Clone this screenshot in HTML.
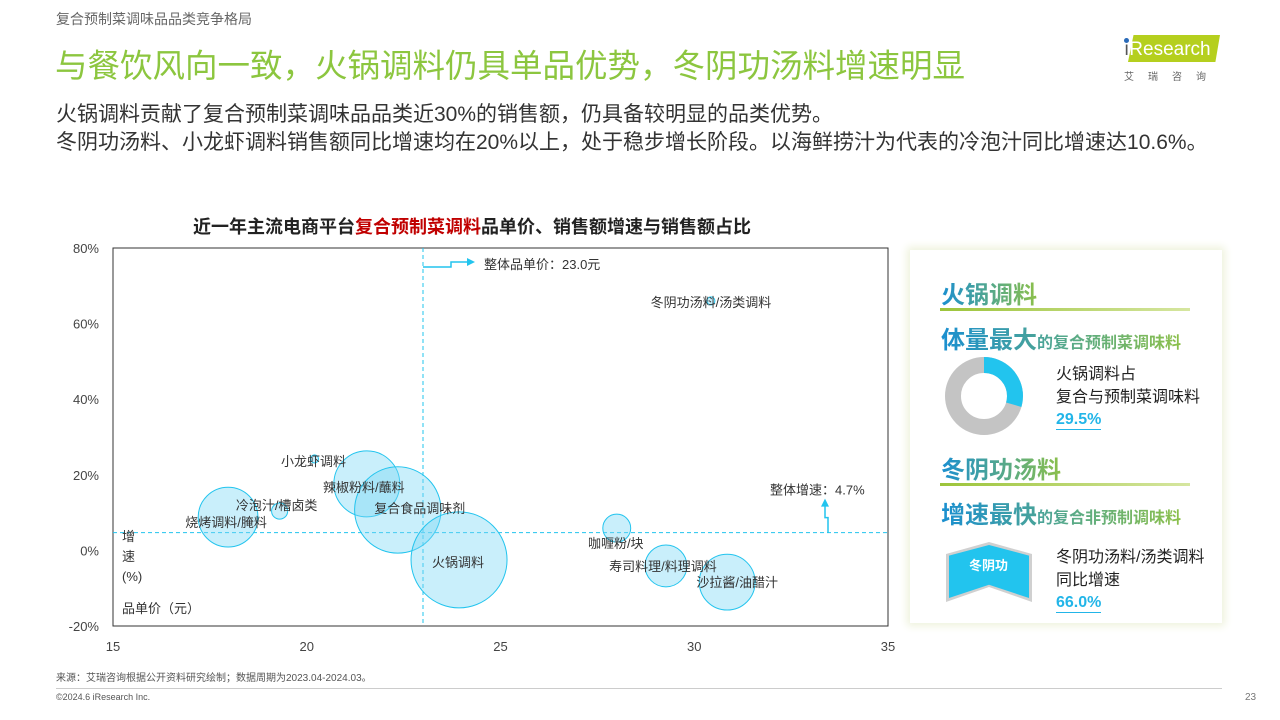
<!DOCTYPE html>
<html><head><meta charset="utf-8">
<style>
body{margin:0;width:1280px;height:720px;background:#fff;font-family:"Liberation Sans","Noto Sans CJK SC",sans-serif;position:relative;overflow:hidden;color:#333}
.abs{position:absolute;white-space:nowrap}
.grad{background:linear-gradient(90deg,#1a8fd0,#8cc04a);-webkit-background-clip:text;background-clip:text;color:transparent;font-weight:bold}
</style></head><body>
<div class="abs" style="left:56px;top:9px;font-size:14px;color:#666">复合预制菜调味品品类竞争格局</div>
<div class="abs" style="left:55px;top:40px;font-size:32.5px;color:#8cc63f">与餐饮风向一致，火锅调料仍具单品优势，冬阴功汤料增速明显</div>
<div style="position:absolute;left:1122px;top:33px;width:98px;height:45px">
 <div style="position:absolute;left:6px;top:2px;width:92px;height:27px;background:#b5cf1e;clip-path:polygon(6% 0,100% 0,95% 100%,0 100%)"></div>
 <div style="position:absolute;left:2px;top:5px;width:5px;height:5px;border-radius:50%;background:#2a6ab8"></div>
 <div class="abs" style="left:2px;top:6px;font-size:19px;color:#fff"><span style="color:#555">ı</span>Research</div>
 <div class="abs" style="left:2px;top:35px;font-size:10px;color:#666;letter-spacing:14px">艾瑞咨询</div>
</div>
<div class="abs" style="left:56px;top:101px;font-size:21px;line-height:28px;color:#333">火锅调料贡献了复合预制菜调味品品类近30%的销售额，仍具备较明显的品类优势。<br>冬阴功汤料、小龙虾调料销售额同比增速均在20%以上，处于稳步增长阶段。以海鲜捞汁为代表的冷泡汁同比增速达10.6%。</div>
<div class="abs" style="left:193px;top:213px;font-size:18px;font-weight:bold;color:#222">近一年主流电商平台<span style="color:#c00000">复合预制菜调料</span>品单价、销售额增速与销售额占比</div>

<svg id="chart" width="1280" height="720" style="position:absolute;left:0;top:0" font-family="Liberation Sans, Noto Sans CJK SC, sans-serif"></svg>

<div style="position:absolute;left:910px;top:250px;width:312px;height:373px;background:#fff;box-shadow:0 0 8px 3px #eef2dc">
 <div class="abs grad" style="left:31px;top:25px;font-size:24px">火锅调料</div>
 <div style="position:absolute;left:30px;top:58px;width:250px;height:3px;background:linear-gradient(90deg,#9cc43a,#d6e6a0)"></div>
 <div class="abs grad" style="left:31px;top:70px;font-size:24px">体量最大<span style="font-size:16px">的复合预制菜调味料</span></div>
 <svg style="position:absolute;left:34px;top:106px" width="80" height="80" viewBox="0 0 80 80">
  <circle cx="40" cy="40" r="31" fill="none" stroke="#c4c4c4" stroke-width="16"/>
  <circle cx="40" cy="40" r="31" fill="none" stroke="#22c4ee" stroke-width="16" stroke-dasharray="57.46 200" transform="rotate(-90 40 40)"/>
 </svg>
 <div class="abs" style="left:146px;top:113px;font-size:16px;line-height:23px;color:#222">火锅调料占<br>复合与预制菜调味料</div>
 <div class="abs" style="left:146px;top:161px;font-size:16px;font-weight:bold;color:#22b5e8;border-bottom:1px solid #22b5e8">29.5%</div>
 <div class="abs grad" style="left:31px;top:200px;font-size:24px">冬阴功汤料</div>
 <div style="position:absolute;left:30px;top:233px;width:250px;height:3px;background:linear-gradient(90deg,#9cc43a,#d6e6a0)"></div>
 <div class="abs grad" style="left:31px;top:245px;font-size:24px">增速最快<span style="font-size:16px">的复合非预制调味料</span></div>
 <div style="position:absolute;left:36px;top:292px;width:86px;height:60px;background:#d0d0d0;clip-path:polygon(0 20%,50% 0,100% 20%,100% 100%,50% 75%,0 100%)"></div>
 <div style="position:absolute;left:39px;top:295px;width:80px;height:53px;background:#22c4ee;clip-path:polygon(0 20%,50% 0,100% 20%,100% 100%,50% 75%,0 100%)"></div>
 <div class="abs" style="left:59px;top:305px;font-size:13px;font-weight:bold;color:#fff">冬阴功</div>
 <div class="abs" style="left:146px;top:296px;font-size:16px;line-height:23px;color:#222">冬阴功汤料/汤类调料<br>同比增速</div>
 <div class="abs" style="left:146px;top:344px;font-size:16px;font-weight:bold;color:#22b5e8;border-bottom:1px solid #22b5e8">66.0%</div>
</div>

<div class="abs" style="left:56px;top:669px;font-size:10px;color:#555">来源：艾瑞咨询根据公开资料研究绘制；数据周期为2023.04-2024.03。</div>
<div style="position:absolute;left:56px;top:688px;width:1166px;height:1px;background:#ccc"></div>
<div class="abs" style="left:56px;top:692px;font-size:9px;color:#555">©2024.6 iResearch Inc.</div>
<div class="abs" style="left:1245px;top:692px;font-size:10px;color:#777">23</div>

<script>
const names=["烧烤调料/腌料","冷泡汁/槽卤类","小龙虾调料","辣椒粉料/蘸料","复合食品调味剂","火锅调料","冬阴功汤料/汤类调料","咖喱粉/块","寿司料理/料理调料","沙拉酱/油醋汁"];
const prices=[17.97,19.3,20.2,21.55,22.35,23.93,30.43,28.0,29.27,30.85];
const growth=[8.8,10.4,24.2,17.6,10.7,-2.5,66.0,5.9,-4.1,-8.4];
const shares=[5.5,0.4,0.1,6.7,11.5,14.2,0.1,1.2,2.7,4.8];
const xTicks=[15,20,25,30,35];
const yTicks=[-20,0,20,40,60,80];
const avgPrice=23.0, avgGrowth=4.7;
const labelDx=[-2,-3,-1,-3,22,-1,0,-1,-3,10];
const labelDy=[5,-6,2,3,-2,2,1,15,0,0];
const NS="http://www.w3.org/2000/svg";
const svg=document.getElementById('chart');
const L=113,R=888,T=248,B=626;
const X=v=>L+(v-15)/20*(R-L);
const Y=v=>B-(v+20)/100*(B-T);
const Rad=s=>48*Math.sqrt(s/14.2);
function mk(t,a,p){const e=document.createElementNS(NS,t);for(const k in a)e.setAttribute(k,a[k]);(p||svg).appendChild(e);return e;}
const frame=mk('rect',{x:L,y:T,width:R-L,height:B-T,fill:'none',stroke:'#333','stroke-width':1});


xTicks.forEach(v=>{const t=mk('text',{x:X(v),y:B+25,'text-anchor':'middle','font-size':13,fill:'#444'});t.textContent=v;

});
yTicks.forEach(v=>{const t=mk('text',{x:99,y:Y(v)+5,'text-anchor':'end','font-size':13,fill:'#444'});t.textContent=v+'%';

});
const vl=mk('line',{x1:X(avgPrice),x2:X(avgPrice),y1:T,y2:B,stroke:'#22c4ee','stroke-dasharray':'4,3'});


const hl=mk('line',{x1:L,x2:R,y1:Y(avgGrowth),y2:Y(avgGrowth),stroke:'#22c4ee','stroke-dasharray':'4,3'});


mk('path',{d:`M${X(avgPrice)} ${T+19}H${X(avgPrice)+28}V${T+14}H${X(avgPrice)+45}`,fill:'none',stroke:'#22c4ee','stroke-width':1.5});
mk('path',{d:`M${X(avgPrice)+44} ${T+10}L${X(avgPrice)+52} ${T+14}L${X(avgPrice)+44} ${T+18}Z`,fill:'#22c4ee'});
const at=mk('text',{x:X(avgPrice)+61,y:T+21,'font-size':13,fill:'#333'});at.textContent='整体品单价：'+avgPrice.toFixed(1)+'元';


mk('path',{d:`M828 ${Y(avgGrowth)}V${Y(avgGrowth)-15}H825V${Y(avgGrowth)-28}`,fill:'none',stroke:'#22c4ee','stroke-width':1.5});
mk('path',{d:`M821 ${Y(avgGrowth)-26}L825 ${Y(avgGrowth)-34}L829 ${Y(avgGrowth)-26}Z`,fill:'#22c4ee'});
const gt=mk('text',{x:770,y:Y(avgGrowth)-38,'font-size':13,fill:'#333'});gt.textContent='整体增速：'+avgGrowth+'%';


names.forEach((n,i)=>{
 const c=mk('circle',{cx:X(prices[i]),cy:Y(growth[i]),r:Math.max(4,Rad(shares[i])),fill:'rgba(120,215,245,0.4)',stroke:'#22c4ee','stroke-width':1});
 
 
});
names.forEach((n,i)=>{
 const t=mk('text',{x:X(prices[i])+labelDx[i],y:Y(growth[i])+labelDy[i]+5,'text-anchor':'middle','font-size':13,fill:'#333'});t.textContent=n;
 
 
});
[['增',541],['速',561],['(%)',581],['品单价（元）',613]].forEach(a=>{const t=mk('text',{x:122,y:a[1],'font-size':13,fill:'#333'});t.textContent=a[0];

});
</script>
</body></html>
